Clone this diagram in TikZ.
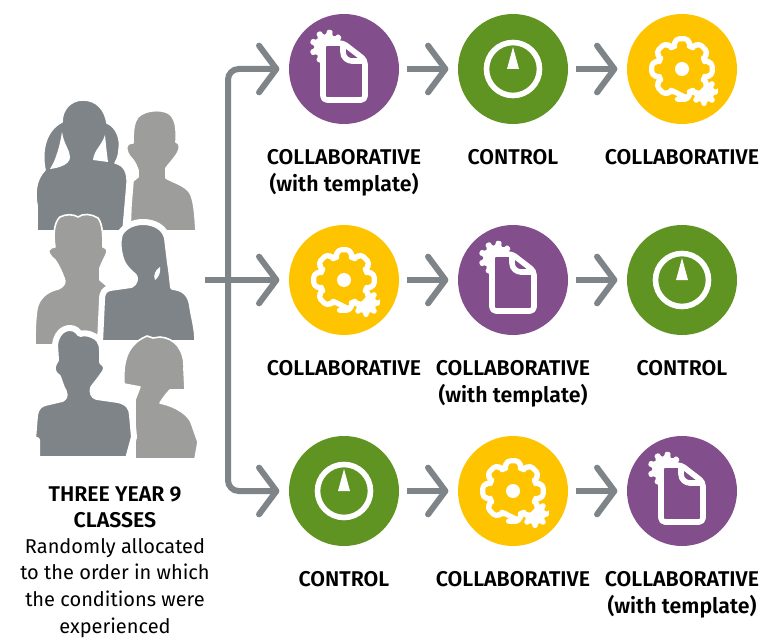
\documentclass[tikz,border=0pt]{standalone}
\usepackage{fontspec}
\setmainfont{Fira Sans}[BoldFont={Fira Sans SemiBold}]
\usetikzlibrary{arrows.meta}
\definecolor{cpurple}{HTML}{824F8C}
\definecolor{cgreen}{HTML}{5F9322}
\definecolor{cyellow}{HTML}{FFC400}
\definecolor{cdark}{HTML}{7E8488}
\definecolor{clight}{HTML}{9D9D9B}
\tikzset{
  x=.75pt,y=-.75pt,
  disc/.style={circle,minimum size=82.5pt,inner sep=0pt,draw=none},
  conn/.style={draw=cdark,line width=4.5pt,-{Straight Barb[length=13pt,width=35pt,line width=4.5pt,round=false]}},
  lab/.style={font=\fontsize{16}{20}\selectfont\bfseries,align=center,anchor=north,inner sep=0pt},
  txt/.style={font=\fontsize{15}{20}\selectfont,align=center,anchor=north,inner sep=0pt},
  pers/.style={line width=1.2pt,draw=white,line join=round},
  persb/.style={line width=4.5pt,draw=white,line join=round},
  docicon/.pic={
    \begin{scope}[shift={(-17,-22)}]
    \fill[white,rounded corners=1pt] (-9:17.5)
      \foreach \a in {0,40,...,320}{ -- (\a-9:17.5) -- (\a+9:17.5) -- (\a+14:12.5) -- (\a+26:12.5)} -- cycle;
    \end{scope}
    \draw[white,line width=4.2pt,fill=cpurple,line join=round,rounded corners=3pt]
      (-21,-26) -- (-1,-26) -- (21,-9) -- (21,31) -- (-21,31) -- cycle;
    \draw[white,line width=4.2pt,line join=round] (-1,-26) -- (-1,-17) .. controls (-1,-11) and (4,-8) .. (8,-8) -- (21,-8);
  },
  clockicon/.pic={
    \draw[white,line width=4.2pt] (0,0) circle (26.5);
    \fill[white] (0,-22) -- (6,0) -- (-6,0) -- cycle;
  },
  gearicon/.pic={
    \begin{scope}[shift={(22,23)}]
    \fill[white,rounded corners=1pt] (-10:14)
      \foreach \a in {0,45,...,315}{ -- (\a-10:14) -- (\a+10:14) -- (\a+16:10) -- (\a+29:10)} -- cycle;
    \end{scope}
    \draw[white,line width=3.9pt,fill=cyellow,line join=round,rounded corners=3.2pt]
      (90-13:31)
      \foreach \a in {90,45,0,-45,-90,-135,-180,-225}{ -- (\a+13:31) -- (\a-13:31) -- (\a-17:24) -- (\a-28:24)} -- cycle;
    \fill[white] (0,0) circle (7);
  }
}
\begin{document}
\begin{tikzpicture}
\useasboundingbox[fill=white] (0,0) rectangle (767,638);
% people
\path[fill=clight,pers] (130,231) -- (131,205) -- (133,181) -- (138,177) -- (138,170) .. controls (136,165) and (135,162) .. (133,160) .. controls (128,155) and (126,150) .. (127,146) .. controls (129,143) and (131,143) .. (133,143) .. controls (133,130) and (134,122) .. (138,117) .. controls (145,110) and (160,109) .. (168,113) .. controls (175,117) and (177,127) .. (176,142) .. controls (180,143) and (180,148) .. (178,152) .. controls (175,158) and (168,165) .. (166,168) -- (166,178) .. controls (172,182) and (185,185) .. (190,193) .. controls (194,200) and (195,215) .. (196,231) -- cycle;
\path[fill=cdark,pers] (37,231) -- (37,205) .. controls (35,195) and (35,180) .. (45,170) .. controls (41,150) and (46,130) .. (62,122) .. controls (62,110) and (70,100) .. (83,100) .. controls (97,100) and (105,110) .. (107,123) .. controls (117,127) and (121,140) .. (119,150) .. controls (119,155) and (117,160) .. (115,163) .. controls (124,165) and (128,172) .. (127,185) -- (123,231) -- cycle;
\fill[white] (62,132) .. controls (64,145) and (70,150) .. (70,157) .. controls (70,165) and (58,168) .. (50,169) .. controls (56,160) and (60,145) .. (62,132) -- cycle;
\fill[white] (105,135) .. controls (106,145) and (107,155) .. (108,162) -- (93,160) .. controls (94,150) and (102,145) .. (105,135) -- cycle;
\path[fill=clight,pers] (35,345) .. controls (35,325) and (36,310) .. (38,305) .. controls (42,295) and (50,291) .. (58,289) .. controls (65,286) and (66,282) .. (64,278) .. controls (61,270) and (58,264) .. (55,260) .. controls (50,256) and (48,252) .. (49,250) .. controls (50,248) and (53,247) .. (55,247) .. controls (53,235) and (54,222) .. (60,217) .. controls (65,214) and (74,214) .. (78,217) .. controls (83,213) and (92,214) .. (98,218) .. controls (103,224) and (103,238) .. (103,247) .. controls (106,248) and (108,250) .. (107,252) .. controls (105,258) and (102,262) .. (100,268) -- (100,280) -- (112,290) -- (100,345) -- cycle;
\path[fill=cdark,persb] (100,343) -- (102,300) .. controls (102,292) and (105,289) .. (110,288) -- (131,285) .. controls (135,283) and (136,278) .. (134,276) .. controls (127,270) and (122,265) .. (120,255) .. controls (118,247) and (118,240) .. (120,234) .. controls (124,226) and (134,222) .. (143,222) .. controls (155,222) and (165,228) .. (167,238) -- (170,263) .. controls (171,268) and (172,278) .. (173,287) .. controls (182,288) and (190,292) .. (192,305) .. controls (193,315) and (198,330) .. (197,343) -- cycle;
\fill[white] (160,267) .. controls (155,270) and (153,276) .. (155,280) .. controls (159,277) and (161,272) .. (160,267) -- cycle;
\path[fill=clight,pers] (147,336) -- (153,338) -- (160,337) .. controls (175,338) and (185,350) .. (184,370) -- (185,390) -- (170,390) .. controls (165,395) and (162,400) .. (160,403) .. controls (175,406) and (190,415) .. (192,425) -- (198,442) -- (195,459) -- (135,459) -- (135,400) -- (140,387) -- (124,384) .. controls (123,365) and (125,345) .. (147,336) -- cycle;
\path[fill=cdark,persb] (37,459) -- (37,440) -- (33,440) -- (35,415) .. controls (36,408) and (40,404) .. (45,403) -- (62,399) .. controls (66,397) and (65,393) .. (62,388) -- (58,377) .. controls (54,375) and (52,370) .. (53,366) .. controls (54,363) and (55,361) .. (56,360) -- (55,345) .. controls (56,335) and (62,328) .. (70,328) .. controls (75,328) and (78,331) .. (80,334) .. controls (83,333) and (88,333) .. (92,335) .. controls (98,337) and (102,342) .. (102,350) -- (102,362) .. controls (106,364) and (107,368) .. (105,372) -- (100,379) -- (93,388) .. controls (92,392) and (93,396) .. (97,397) -- (118,400) .. controls (128,402) and (132,408) .. (132,415) -- (134,437) -- (128,459) -- cycle;
% stage discs
\foreach \r/\y in {1/69,2/280,3/491}{
  \foreach \c/\x in {a/344,b/513,c/682}{
    \coordinate (p\c\r) at (\x,\y);
  }
}
\node[disc,fill=cpurple] (a1) at (pa1) {};
\node[disc,fill=cgreen] (b1) at (pb1) {};
\node[disc,fill=cyellow] (c1) at (pc1) {};
\node[disc,fill=cyellow] (a2) at (pa2) {};
\node[disc,fill=cpurple] (b2) at (pb2) {};
\node[disc,fill=cgreen] (c2) at (pc2) {};
\node[disc,fill=cgreen] (a3) at (pa3) {};
\node[disc,fill=cyellow] (b3) at (pb3) {};
\node[disc,fill=cpurple] (c3) at (pc3) {};
\pic at (pa1) {docicon};
\pic at (pb1) {clockicon};
\pic at (pc1) {gearicon};
\pic at (pa2) {gearicon};
\pic at (pb2) {docicon};
\pic at (pc2) {clockicon};
\pic at (pa3) {clockicon};
\pic at (pb3) {gearicon};
\pic at (pc3) {docicon};
% connectors
\foreach \r in {1,2,3}{
  \draw[conn,shorten <=6pt,shorten >=7pt] (a\r) -- (b\r);
  \draw[conn,shorten <=6pt,shorten >=7pt] (b\r) -- (c\r);
}
\coordinate (start) at (205,280);
\coordinate (bus1) at (228,69);
\coordinate (bus3) at (228,491);
\draw[conn,shorten >=7pt] (start) -- (a2);
\draw[conn,shorten >=7pt,rounded corners=8pt] (228,280) -- (bus1) -- (a1);
\draw[conn,shorten >=7pt,rounded corners=8pt] (228,280) -- (bus3) -- (a3);
% labels
\node[lab] (la1) at (344,149) {COLLABORATIVE\\(with template)};
\node[lab] (lb1) at (513,149) {CONTROL};
\node[lab] (lc1) at (682,149) {COLLABORATIVE};
\node[lab] (la2) at (344,360) {COLLABORATIVE};
\node[lab] (lb2) at (513,360) {COLLABORATIVE\\(with template)};
\node[lab] (lc2) at (682,360) {CONTROL};
\node[lab] (la3) at (344,571) {CONTROL};
\node[lab] (lb3) at (513,571) {COLLABORATIVE};
\node[lab] (lc3) at (682,571) {COLLABORATIVE\\(with template)};
\node[lab] (classes) at (115,486) {THREE YEAR 9\\CLASSES};
\node[txt] (alloc) at (115,538) {Randomly allocated\\to the order in which\\the conditions were\\experienced};
\end{tikzpicture}
\end{document}
